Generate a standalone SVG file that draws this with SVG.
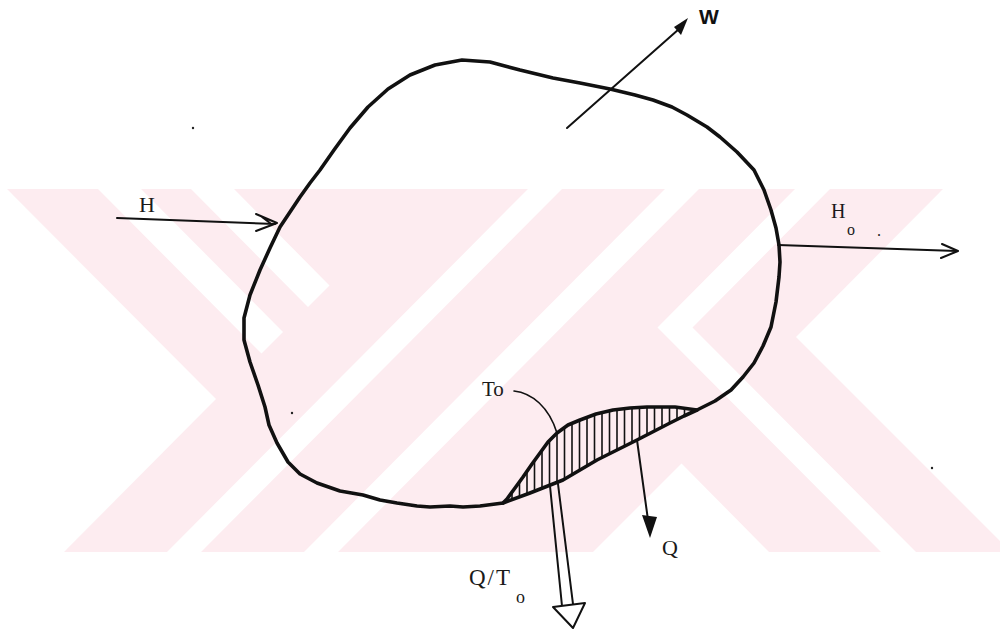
<svg xmlns="http://www.w3.org/2000/svg" width="1004" height="631" viewBox="0 0 1004 631">
<style>
.wm{fill:#fdecf0}
.gap{fill:#fff}
.ink{fill:none;stroke:#111;stroke-linecap:round;stroke-linejoin:round}
.thick{stroke-width:3.6}
.thin{stroke-width:2}
.hatch{stroke:#111;stroke-width:1.6}
.lbl{font-family:"Liberation Serif",serif;fill:#1a1a1a}
.dot{fill:#222}
</style>
<defs>
<clipPath id="lensClip"><path d="M503,503 L507,499 L515,488 L523,477 L532,464 L540,453 L548,442 L557,433 L568,425 L580,420 L596,414 L613,410 L630,408 L647,407 L660,407 L675,407 L697,410 L684,416 L670,423 L637,440 L597,460 L563,480 L530,493 Z"/></clipPath>
</defs>
<rect width="1004" height="631" fill="#fff"/>
<g id="watermark">
<rect class="wm" x="5" y="189" width="995" height="363"/>
<polygon class="gap" points="0,188 6,188 216,399 63,553 0,553"/>
<polygon class="gap" points="97,188 140,188 283,332 261.5,353.5"/>
<polygon class="gap" points="190,188 233,188 329.5,285.5 308,307"/>
<polygon class="gap" points="529,188 563,188 200,553 166,553"/>
<polygon class="gap" points="666,188 700,188 337,553 303,553"/>
<polygon class="gap" points="796,188 657.5,327.5 882,553 917,553 692.5,327.5 831,188"/>
<polygon class="gap" points="944,188 1004,188 1004,545 796,337"/>
<polygon class="gap" points="592,553 681.5,463.5 770,553"/>
</g>
<g id="system">
<path class="ink thick" d="M340,491 L317,483 L300,474 L288,462 L277,443 L269,425 L265,407 L258,385 L250,362 L244,340 L244,318 L250,295 L260,270 L270,248 L280,227 L290,212 L300,197 L310,183 L320,170 L334,150 L350,128 L368,107 L388,89 L410,75 L435,65 L462,60 L490,62 L520,70 L553,78 L580,83 L610,89 L635,95 L653,100 L672,107 L687,115 L707,127 L720,137 L737,152 L754,170 L764,190 L771,210 L776,228 L779,245 L780,262 L779,277 L776,302 L771,327 L763,346 L754,363 L743,377 L731,390 L715,401 L697,410 L684,416 L670,423 L637,440 L597,460 L563,480 L530,493 L503,503 L480,506 L463,507 L450,506 L430,507 L417,506 L397,503 L380,500 L363,495 Z"/>
</g>
<g id="heat-zone">
<g clip-path="url(#lensClip)">
<path class="hatch" d="M512,400V512M519.5,400V512M527,400V512M534.5,400V512M542,400V512M549.5,400V512M557,400V512M564.5,400V512M572,400V512M579.5,400V512M587,400V512M594.5,400V512M602,400V512M609.5,400V512M617,400V512M624.5,400V512M632,400V512M639.5,400V512M647,400V512M654.5,400V512M662,400V512M669.5,400V512M677,400V512M684.5,400V512"/>
</g>
<path class="ink thick" d="M503,503 L507,499 L515,488 L523,477 L532,464 L540,453 L548,442 L557,433 L568,425 L580,420 L596,414 L613,410 L630,408 L647,407 L660,407 L675,407 L697,410"/>
</g>
<g id="connectors">
<path class="ink thin" d="M117,218 L275,224"/>
<path class="ink thin" d="M256,214 L277,223 L256,231 M262,217 L270,223"/>
<path class="ink thin" d="M778,245 L957,251"/>
<path class="ink thin" d="M942,244 L958,251 L941,258"/>
<path class="ink thin" d="M567,128 L679,29"/>
<polygon points="688,18 674,27 681,35" fill="#111"/>
<path class="ink" stroke-width="1.6" d="M514,391 C532,393 549,407 557,433"/>
<path class="ink thin" d="M637,440 L648,520"/>
<polygon points="642,515 657,517 650,538" fill="#111"/>
<path class="ink thin" d="M550,486 L562,606 M558,484 L573,604"/>
<polygon points="553,607 585,603 573,628" fill="#fff" stroke="#111" stroke-width="2" stroke-linejoin="round"/>
</g>
<g id="labels">
<text class="lbl" x="139" y="212" font-size="22">H</text>
<text class="lbl" x="831" y="218" font-size="20">H</text>
<text class="lbl" x="847" y="235" font-size="16">o</text>
<text class="lbl" x="877" y="236" font-size="16">.</text>
<text x="699" y="24" font-family="Liberation Sans,sans-serif" font-weight="bold" font-size="21" fill="#111">W</text>
<text class="lbl" x="482" y="396" font-size="21">To</text>
<text class="lbl" x="662" y="555" font-size="22">Q</text>
<text class="lbl" x="469" y="585" font-size="23" letter-spacing="2">Q/T</text>
<text class="lbl" x="516" y="603" font-size="18">o</text>
</g>
<g id="specks">
<circle class="dot" cx="292" cy="413" r="1.2"/>
<circle class="dot" cx="932" cy="468" r="1.2"/>
<circle class="dot" cx="193" cy="128" r="1.2"/>
</g>
</svg>
